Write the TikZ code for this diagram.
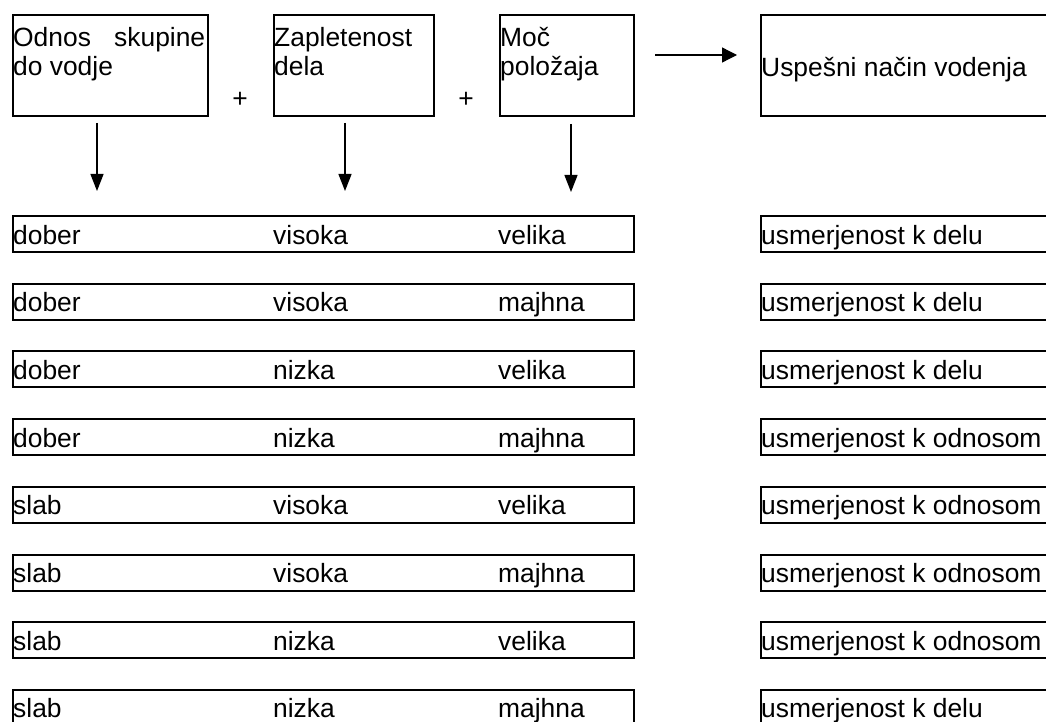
\documentclass[tikz,border=0pt]{standalone}
\usepackage{fontspec}
\setmainfont{Liberation Sans}
\usetikzlibrary{arrows.meta}
\begin{document}
\begin{tikzpicture}[x=1pt,y=-1pt,
  every node/.style={font=\fontsize{26.4}{30}\selectfont},
  frame/.style={draw, line width=2pt, inner sep=0pt, anchor=north west},
  lbl/.style={anchor=base west, inner sep=0pt},
  flow/.style={line width=1.3pt, -{Triangle[length=17pt,width=13pt]}},
  flowh/.style={line width=1.3pt, -{Triangle[length=15pt,width=15pt]}}]
\useasboundingbox (0,0) rectangle (1046,722);
\clip (0,0) rectangle (1046,722);

% factor boxes
\node[frame, minimum width=195pt, minimum height=101pt] (h1) at (12,14) {};
\node[lbl] (h1a) at (13,47) {\makebox[192pt][s]{Odnos skupine}};
\node[lbl] (h1b) at (13,76) {do vodje};

\node[frame, minimum width=160pt, minimum height=101pt] (h2) at (273,14) {};
\node[lbl] (h2a) at (274,47) {Zapletenost};
\node[lbl] (h2b) at (274,76) {dela};

\node[frame, minimum width=134pt, minimum height=101pt] (h3) at (499,14) {};
\node[lbl] (h3a) at (500,47) {Moč};
\node[lbl] (h3b) at (500,76) {položaja};

% result box
\node[frame, minimum width=320pt, minimum height=101pt] (h4) at (760,14) {};
\node[lbl] (h4a) at (761,77) {Uspešni način vodenja};

% plus signs
\node[inner sep=0pt] (p1) at (240,100) {+};
\node[inner sep=0pt] (p2) at (466,100) {+};

% arrows
\coordinate (r0) at (655,55);
\coordinate (r1) at (737,55);
\draw[flowh] (r0) -- (r1);
\coordinate (d1s) at (97,123);  \coordinate (d1e) at (97,191);
\coordinate (d2s) at (345,123); \coordinate (d2e) at (345,191);
\coordinate (d3s) at (571,124); \coordinate (d3e) at (571,192);
\draw[flow] (d1s) -- (d1e);
\draw[flow] (d2s) -- (d2e);
\draw[flow] (d3s) -- (d3e);

% combinations and outcomes
\foreach \a/\b/\c/\r [count=\i from 0] in {
  dober/visoka/velika/usmerjenost k delu,
  dober/visoka/majhna/usmerjenost k delu,
  dober/nizka/velika/usmerjenost k delu,
  dober/nizka/majhna/usmerjenost k odnosom,
  slab/visoka/velika/usmerjenost k odnosom,
  slab/visoka/majhna/usmerjenost k odnosom,
  slab/nizka/velika/usmerjenost k odnosom,
  slab/nizka/majhna/usmerjenost k delu} {
  \pgfmathsetmacro\t{215+67.7*\i}
  \node[frame, minimum width=621pt, minimum height=36pt] (row\i) at (12,\t) {};
  \node[lbl] (ca\i) at (13,{\t+29}) {\a};
  \node[lbl] (cb\i) at (273,{\t+29}) {\b};
  \node[lbl] (cc\i) at (498,{\t+29}) {\c};
  \node[frame, minimum width=320pt, minimum height=36pt] (res\i) at (760,\t) {};
  \node[lbl] (cr\i) at (761,{\t+29}) {\r};
}
\end{tikzpicture}
\end{document}
